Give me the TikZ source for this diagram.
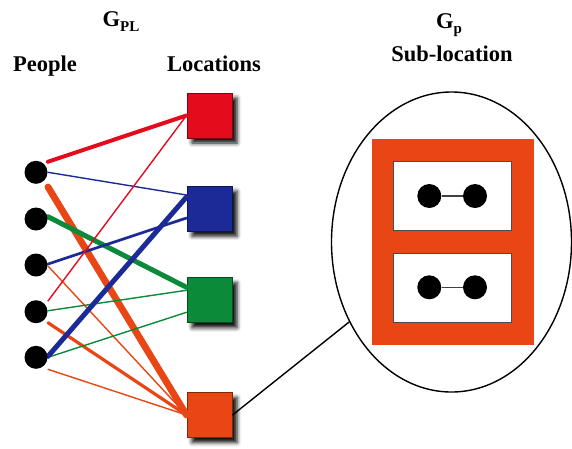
\documentclass[tikz,border=0pt]{standalone}
\usepackage{fontspec}
\setmainfont{Liberation Serif}
\usetikzlibrary{shadows.blur,calc,shapes.geometric}

\definecolor{locred}{HTML}{E30B1C}
\definecolor{locblue}{HTML}{1B2A96}
\definecolor{locgreen}{HTML}{0B8A3A}
\definecolor{locorange}{HTML}{E84615}

\tikzset{
  person/.style={circle,fill=black,inner sep=0pt,minimum size=23pt},
  loc/.style={rectangle,minimum size=45pt,inner sep=0pt,line width=1pt,
    fill=#1,draw=#1!55!black,
    blur shadow={shadow xshift=5pt,shadow yshift=-5pt,shadow blur radius=4pt,shadow opacity=95}},
  heading/.style={font=\fontsize{22.5}{24}\selectfont\bfseries,anchor=base,inner sep=0pt},
  thin/.style={line width=1.4pt},
  subdot/.style={circle,fill=black,inner sep=0pt,minimum size=24pt},
  room/.style={fill=white,draw=black!70,line width=1pt},
}

\newcommand{\subtext}[1]{\raisebox{-5pt}{\fontsize{15}{15}\selectfont #1}}

\begin{document}
\begin{tikzpicture}[x=1pt,y=-1pt]
\useasboundingbox (0,0) rectangle (572,448);

% headings
\node[heading] (gpl) at (121,26.7) {G\subtext{PL}};
\node[heading] (people) at (45,71) {People};
\node[heading] (locations) at (214,71) {Locations};
\node[heading] (gp) at (449,28.3) {G\subtext{p}};
\node[heading] (subloc) at (452,61.7) {Sub-location};

% people and locations (y grows downwards)
\foreach \i/\y in {1/172.3,2/219,3/265,4/311.7,5/357.3}
  \coordinate (c\i) at (36,\y);
\node[loc=locred]    (lr) at (209.5,115.5) {};
\node[loc=locblue]   (lb) at (209.5,208.7) {};
\node[loc=locgreen]  (lg) at (209.5,300.3) {};
\node[loc=locorange] (lo) at (209.5,415) {};

% person-location links
\begin{scope}[line cap=round]
  \draw[locorange,line width=6.8pt] ($(c1)+(12,14.7)$) -- (lo.west);
  \draw[locorange,thin] ($(c3)+(12,1)$) -- (lo.west);
  \draw[locorange,line width=3.2pt] ($(c4)+(12,11)$) -- (lo.west);
  \draw[locorange,thin] ($(c5)+(12,12)$) -- (lo.west);

  \draw[locgreen,line width=5pt] ($(c2)+(12,-2.3)$) -- ([yshift=13pt]lg.west);
  \draw[locgreen,thin] ($(c4)+(12,-1)$) -- ([yshift=10pt]lg.west);
  \draw[locgreen,thin] ($(c5)+(12,0)$) -- ([yshift=-12pt]lg.west);

  \draw[locblue,thin] ($(c1)+(12,0)$) -- ([yshift=13.7pt]lb.west);
  \draw[locblue,line width=2.7pt] ($(c3)+(12,-1)$) -- ([yshift=-9.3pt]lb.west);
  \draw[locblue,line width=5pt] ($(c5)+(12,-1)$) -- ([yshift=11.7pt]lb.west);

  \draw[locred,line width=4pt] ($(c1)+(12,-10.6)$) -- (lr.west);
  \draw[locred,thin] ($(c4)+(12,-10.7)$) -- (lr.west);
\end{scope}

\foreach \i in {1,...,5}
  \node[person] (p\i) at (c\i) {};

% magnified sub-location
\node[ellipse,draw=black,line width=1.4pt,minimum width=240pt,minimum height=300pt,inner sep=0pt]
  (zoomview) at (451.5,242) {};
\draw[black,line width=1.4pt] (lo.east) -- (zoomview.218);

\fill[locorange] (371.7,139.3) rectangle (534,345);
\draw[room] (393.3,161.7) rectangle (511.7,230.7);
\draw[room] (393.3,253.3) rectangle (511.7,322.7);

\node[subdot] (s1) at (429.3,196) {};
\node[subdot] (s2) at (475,196) {};
\node[subdot] (s3) at (429.3,287.3) {};
\node[subdot] (s4) at (475,287.3) {};
\draw[black!75,line width=1.3pt] (s1) -- (s2);
\draw[black!75,line width=1.3pt] (s3) -- (s4);
\end{tikzpicture}
\end{document}
